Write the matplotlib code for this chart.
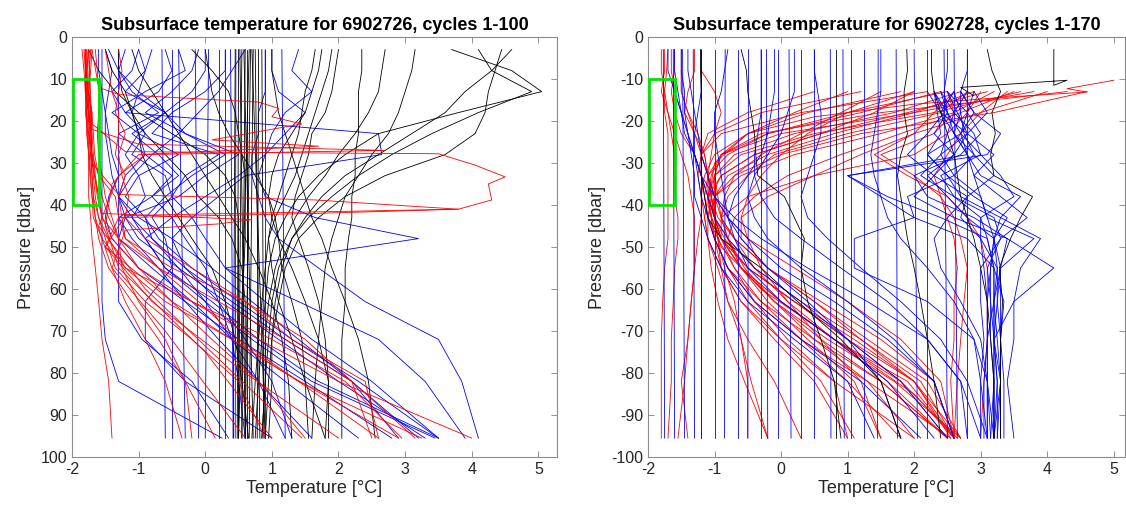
import numpy as np
import matplotlib

matplotlib.use("Agg")
import matplotlib.pyplot as plt
from matplotlib.patches import Rectangle

OUTPUT_PATH = "out.png"
nan = np.nan

# pressure levels (dbar) shared by the gridded profiles
P_GRID = [3, 8, 13, 18, 23, 28, 33, 38, 43, 48, 55, 63, 72, 82, 95.5]
P_TOP, P_BOTTOM = 3, 95.5

# ---------------- float 6902726 (left panel) ----------------
LEFT_BLACK = [
    [4.6, 4.3, 3.9, 3.6, 3.1, 2.6, 2.1, 1.75, 1.5, 1.3, 1.1, 1.0, 0.95, 0.9, 0.85],
    [3.7, 4.6, 5.05, 3.8, 2.6, 2.1, 1.7, 1.4, 1.2, 1.05, 0.95, 0.9, 0.85, 0.8, 0.75],
    [4.1, 4.3, 4.9, 4.1, 3.4, 2.8, 2.3, 1.9, 1.55, 1.3, 1.15, 1.05, 1.0, 1.0, 0.95],
    [4.45, 4.35, 4.25, 4.2, 4.05, 3.6, 2.7, 2.1, 1.7, 1.4, 1.2, 1.1, 1.0, 0.95, 0.9],
    [3.15, 3.1, 3.0, 2.9, 2.75, 2.5, 2.3, 2.1, 2.0, 1.9, 1.8, 1.75, 1.7, 1.65, 1.6],
    [2.7, 2.65, 2.6, 2.45, 2.25, 2.0, 1.8, 1.55, 1.35, 1.2, 1.05, 0.95, 0.9, 0.9, 0.85],
    [1.9, 1.85, 1.75, 1.65, 1.55, 1.45, 1.35, 1.2, 1.05, 0.95, 1.0, 1.1, 1.3, 1.5, 1.8],
    [1.65, 1.6, 1.5, 1.45, 1.4, 1.3, 1.2, 1.1, 1.0, 0.95, 0.9, 0.85, 0.8, 0.75, 0.7],
    [-1.75, -1.6, -1.35, -1.0, -0.5, 0.0, 0.3, 0.45, 0.5, 0.5, 0.5, 0.5, 0.5, 0.5, 0.5],
    [-1.3, -1.3, -1.25, -1.1, -1.0, -0.95, -0.8, -0.6, -0.4, -0.2, 0.1, 0.3, 0.45, 0.55, 0.65],
    [-0.2, 0.1, 0.35, 0.45, 0.5, 0.55, 0.6, 0.6, 0.6, 0.6, 0.58, 0.55, 0.55, 0.55, 0.55],
    [2.35, 2.35, 2.3, 2.3, 2.3, 2.25, 2.25, 2.2, 2.2, 2.15, 2.1, 2.1, 2.05, 2.05, 2.05],
    [1.0, 1.0, 1.05, 1.1, 1.2, 1.3, 1.4, 1.5, 1.6, 1.75, 1.9, 2.1, 2.3, 2.45, 2.55],
    [1.75, 1.7, 1.6, 1.5, 1.3, 1.1, 1.0, 0.95, 1.0, 1.1, 1.3, 1.5, 1.7, 1.85, 1.8],
    [-1.1, -1.0, -0.8, -0.6, -0.4, -0.2, 0.0, 0.2, 0.4, 0.6, 0.8, 1.0, 1.15, 1.25, 1.3],
    [0.0, 0.05, 0.1, 0.2, 0.35, 0.55, 0.75, 0.95, 1.05, 1.1, 1.15, 1.3, 1.45, 1.5, 1.55],
    [2.0, 1.95, 1.9, 1.8, 1.6, 1.55, 1.45, 1.35, 1.3, 1.4, 1.55, 1.7, 1.8, 1.85, 1.85],
    [-1.5, -1.4, -1.2, -1.1, -0.9, -0.6, -0.3, -0.1, 0.2, 0.4, 0.55, 0.6, 0.6, 0.6, 0.6],
]
LEFT_BLACK_FLAT_TOP = [0.45, 0.5, 0.55, 0.6, 0.62, 0.68, 0.72, 0.75, 0.8, 0.85, 0.52, 0.58, 0.66, 0.7]
LEFT_BLACK_FLAT_BOTTOM = [0.42, 0.48, 0.5, 0.55, 0.62, 0.6, 0.66, 0.82, 0.78, 0.88, 0.6, 0.72, 0.5, 0.9]

LEFT_BLUE = [
    [-1.55, -1.55, -1.55, -1.55, -1.55, -1.55, -1.55, -1.55, -1.55, -1.55, -1.55, -1.55, -1.5, -1.3, 0.25],
    [-1.3, -1.3, -1.3, -1.3, -1.3, -1.3, -1.3, -1.3, -1.3, -1.3, -1.3, -1.3, -0.95, -0.2, 0.35],
    [-1.0, -1.1, -1.4, -1.2, -0.9, -1.1, -0.6, -0.5, -0.8, -0.6, -0.5, -0.9, -0.9, -0.3, 1.0],
    [-0.8, -0.9, -1.2, -0.6, -1.0, -1.2, -1.0, -0.9, -1.1, -0.9, -0.6, 0.0, 0.7, 1.6, 3.45],
    [0.3, 0.3, 0.0, -0.5, -0.8, 0.2, -0.3, -0.5, -0.2, 0.0, 0.3, 0.9, 1.6, 2.5, 3.5],
    [-0.1, -0.2, -0.5, -0.9, -0.3, 0.5, 0.0, -0.4, -1.2, -1.3, -0.8, -0.2, 0.4, 1.2, 2.3],
    [1.4, 1.3, 1.6, 1.2, 1.0, 0.9, 0.8, 0.9, 1.65, 3.2, 0.3, 1.4, 2.6, 3.3, 3.9],
    [0.9, 0.9, 0.9, 0.8, 0.8, 0.7, 0.7, 0.8, 0.9, 1.1, 1.7, 2.4, 3.5, 3.85, 4.1],
    [-0.6, -0.5, -0.7, -1.2, 2.6, 2.65, 0.6, 0.2, -0.2, -0.5, -0.3, 0.4, 1.2, 2.2, 3.2],
    [-1.5, -1.4, -1.45, -1.5, -1.45, -1.4, -1.3, -1.45, -1.5, -1.4, -1.0, -0.3, 0.5, 1.5, 2.8],
    [-1.6, -1.6, -1.55, -1.5, -1.5, -1.45, -1.4, -1.3, -1.1, -0.8, -0.3, 0.2, 0.6, 1.0, 1.3],
    [0.0, 0.0, -0.2, -0.6, -1.1, -0.7, -0.4, -0.8, -0.5, -0.3, 0.0, 0.2, 0.4, 0.5, 0.6],
    [-1.0, -0.9, -1.0, -1.1, -1.0, -0.9, -1.2, -1.3, -1.2, -1.0, -0.4, 0.3, 1.1, 2.0, 3.3],
    [1.0, 1.0, 1.1, 1.5, 1.2, 0.9, 0.5, 0.0, -0.5, -0.9, -0.6, 0.1, 0.8, 1.7, 3.5],
    [-1.2, -1.3, -1.1, -0.7, -1.3, -0.9, -0.5, -0.8, -1.3, -1.1, -0.7, -0.3, 0.2, 0.8, 1.6],
    [-0.4, -0.3, -0.9, -1.4, -1.0, -0.4, -1.0, -1.2, -0.9, -0.7, -0.2, 0.5, 1.3, 2.3, 3.5],
    [0.6, 0.4, 0.2, -0.1, -0.4, -0.8, -1.1, -1.3, -1.0, -0.5, 0.1, 0.7, 1.4, 2.2, 2.9],
    [-1.45, -1.3, -1.0, -0.6, -0.3, 0.3, -0.2, -0.6, -0.9, -0.8, -0.4, 0.0, 0.4, 0.8, 1.2],
]
LEFT_BLUE_FLAT_TOP = [-0.65, -0.5, -0.4, -0.15, 0.2, 0.3, 0.38, 0.46, 0.9, 1.15, 0.05]
LEFT_BLUE_FLAT_BOTTOM = [-0.6, -0.5, -0.3, -0.1, 0.2, 0.3, 0.42, 0.45, 0.9, 1.2, 0.0]

LEFT_RED = [
    [-1.8, -1.8, -1.8, -1.78, -1.78, -1.75, -1.75, -1.75, -1.72, -1.7, -1.65, -1.6, -1.55, -1.45, -1.4],
    [-1.75, -1.78, -1.8, -1.75, -1.7, -1.72, -1.7, -1.68, -1.65, -1.6, -1.45, -1.1, -0.7, -0.3, 0.15],
    [-1.7, -1.72, -1.75, -1.72, -1.7, -1.68, -1.65, -1.6, -1.55, -1.4, -1.0, -0.5, 0.1, 0.8, 1.5],
    [-1.85, -1.82, -1.8, -1.78, -1.75, -1.72, -1.7, -1.68, -1.6, -1.45, -1.2, -0.6, 0.4, 1.4, 2.6],
    [-1.8, -1.78, -1.76, -1.74, -1.72, -1.7, -1.66, -1.62, -1.55, -1.3, -0.7, 0.2, 1.2, 2.2, 3.15],
    [-1.78, -1.8, -1.78, -1.76, -1.74, -1.7, -1.68, -1.65, -1.6, -1.5, -1.35, -0.9, -0.2, 0.5, 0.9],
    [-1.76, -1.77, -1.78, -1.8, -1.76, -1.74, -1.72, -1.7, -1.68, -1.55, -1.2, -0.2, 1.0, 2.1, 2.95],
    [-1.82, -1.8, -1.79, -1.78, -1.77, -1.75, -1.73, -1.7, -1.65, -1.55, -1.4, -1.2, -0.9, -0.6, -0.35],
    [-1.72, -1.74, -1.76, -1.7, -1.68, -1.66, -1.6, -1.55, -1.45, -1.3, -1.0, -0.2, 0.8, 2.0, 4.0],
    [-1.65, -1.62, -1.6, -1.6, -1.62, -1.6, -1.55, -1.5, -1.4, -1.3, -1.25, -1.0, -0.6, -0.3, -0.2],
    [-1.8, -1.8, -1.75, -1.7, -1.75, -1.7, -1.6, -1.35, -1.3, -1.2, -0.5, 0.6, 1.5, 2.2, 2.5],
    [-1.5, -1.45, -1.4, -1.3, -1.3, -1.35, -1.2, -1.3, -1.25, -1.2, -0.7, -0.1, 0.5, 1.4, 3.25],
    [-1.3, -1.25, -1.3, -1.35, -1.2, -1.3, -1.25, -1.15, -1.2, -0.9, -0.2, 0.6, 1.3, 2.4, 2.6],
]
# red profiles with shallow warm intrusions (own pressure levels)
LEFT_RED_SPIKE_T = [
    [-1.7, -1.6, -1.3, 0.8, 1.1, 1.0, 1.45, 0.1, 1.7, -1.0, -1.4, -1.5, -1.3, 0.0, 1.0],
    [-1.8, -1.75, -1.2, 3.5, 4.05, 4.5, 4.25, 4.3, 3.8, 1.65, -1.3, -1.5, -0.8, 0.6, 2.0],
    [-1.8, -1.7, -1.3, 1.65, 3.8, -1.2, -1.5, -0.5, 1.2, 2.9],
    [-1.75, -1.7, -1.55, 0.7, 0.2, -1.2, -1.4, -0.6, 0.6],
    [-1.75, -1.7, -1.0, 2.7, -0.9, -1.3, -1.6, -0.9, 1.45],
]
LEFT_RED_SPIKE_P = [
    [3, 12, 13.7, 15.5, 17, 19, 20.7, 24.5, 26, 28, 35, 45, 55, 75, 95.5],
    [3, 20, 27.3, 27.8, 30.5, 33.3, 35, 38.8, 41, 42, 43, 50, 63, 80, 95.5],
    [3, 30, 37.5, 38.8, 41, 42.5, 50, 63, 80, 95.5],
    [3, 30, 42, 43.5, 44.5, 46, 55, 70, 95.5],
    [3, 22, 25.5, 27, 28, 33, 45, 60, 95.5],
]

# ---------------- float 6902728 (right panel) ----------------
RIGHT_BLACK = [
    [3.1, 3.17, 3.3, 3.17, 3.22, 3.15, 3.2, 3.78, 3.6, 3.45, 3.28, 3.33, 3.3, 3.3, 3.3],
    [-0.6, -0.52, -0.5, -0.45, -0.4, -0.38, -0.35, 0.05, 0.2, 0.35, 0.3, 0.4, 0.6, 0.8, 0.9],
    [-1.21, -1.21, -1.2, -1.2, -1.2, -1.2, -1.2, -1.15, -1.1, -0.9, -0.3, 0.25, 0.9, 1.5, 1.8],
    [1.89, 1.9, 1.85, 1.85, 1.9, 1.8, 1.75, 1.8, 1.85, 1.9, 2.0, 2.1, 2.2, 2.3, 2.4],
    [2.26, 2.26, 2.3, 2.4, 2.5, 2.6, 2.65, 2.7, 2.8, 2.9, 3.0, 3.1, 3.15, 3.2, 3.2],
]
RIGHT_BLACK_FLAT_TOP = [-1.21, 0.82]
RIGHT_BLACK_FLAT_BOTTOM = [-1.21, 0.82]
RIGHT_BLACK_SPIKE_T = [[4.1, 4.1, 4.3, 2.7, 2.9]]
RIGHT_BLACK_SPIKE_P = [[3, 11.5, 10.3, 12, 14]]

RIGHT_BLUE = [
    [-1.7, -1.7, -1.6, -1.5, -1.4, -1.3, -1.2, -1.1, -1.0, -0.8, -0.4, 0.3, 1.0, 1.8, 2.5],
    [-1.5, -1.5, -1.45, -1.45, -1.4, -1.35, -1.3, -1.3, -1.2, -1.1, -0.9, -0.5, 0.2, 1.0, 1.4],
    [-1.2, -1.2, -1.2, -1.25, -1.3, -1.3, -1.25, -1.2, -1.1, -1.0, -0.8, -0.4, 0.3, 1.2, 2.1],
    [-0.8, -0.85, -0.9, -1.0, -1.0, -0.95, -0.9, -0.85, -0.8, -0.7, -0.5, 0.0, 0.8, 1.6, 2.3],
    [nan, nan, 2.3, 2.5, 2.6, 2.8, 1.0, 1.6, 2.4, 3.1, 3.2, 3.2, 3.2, 3.2, 3.2],
    [nan, nan, 2.6, 2.7, 2.75, 2.9, 2.6, 3.0, 3.1, 3.2, 3.15, 3.1, 3.1, 3.1, 3.1],
    [nan, nan, 2.2, 2.4, 2.6, 2.8, 3.0, 3.6, 3.3, 3.2, 3.3, 3.3, 3.3, 3.3, 3.3],
    [nan, nan, 2.9, 2.8, 2.7, 2.2, 2.5, 2.7, 3.3, 3.9, 3.6, 3.5, 3.5, 3.4, 3.5],
    [nan, nan, 2.5, 2.8, 3.0, 2.7, 2.0, 2.2, 2.9, 3.4, 4.1, 3.5, 3.2, 3.3, 3.2],
    [nan, nan, 2.4, 2.6, 2.9, 3.0, 2.4, 2.6, 3.2, 3.3, 3.0, 3.0, 3.05, 3.0, 3.0],
    [2.8, 2.8, 2.7, 2.7, 2.6, 2.9, 3.2, 2.8, 2.7, 3.0, 3.25, 3.25, 3.3, 3.3, 3.25],
    [nan, nan, 2.7, 2.9, 3.3, 3.1, 1.0, 1.5, 2.0, 2.8, 3.2, 3.2, 3.2, 3.25, 3.2],
    [nan, nan, 2.8, 2.6, 2.5, 2.4, 2.6, 1.9, 2.0, 1.1, 1.1, 2.2, 2.9, 3.1, 3.2],
    [nan, nan, 2.4, 2.5, 2.7, 2.8, 2.9, 3.0, 3.1, 3.8, 3.3, 3.2, 3.1, 3.1, 3.1],
    [-0.3, -0.3, -0.3, -0.3, -0.35, -0.4, -0.4, -0.3, -0.1, 0.3, 0.9, 1.6, 2.2, 2.7, 3.0],
    [0.5, 0.5, 0.55, 0.6, 0.6, 0.5, 0.4, 0.3, 0.4, 0.7, 1.2, 1.8, 2.4, 2.8, 3.1],
    [1.5, 1.5, 1.5, 1.45, 1.4, 1.35, 1.4, 1.5, 1.6, 1.8, 2.2, 2.6, 2.9, 3.0, 3.1],
    [nan, nan, 2.3, 2.35, 2.4, 2.2, 2.5, 2.9, 3.4, 3.2, 3.15, 3.15, 3.2, 3.2, 3.15],
    [nan, nan, 2.7, 2.9, 2.7, 3.0, 3.3, 3.5, 3.0, 3.1, 3.2, 3.35, 3.3, 3.35, 3.35],
    [2.5, 2.5, 2.45, 2.5, 2.3, 2.6, 2.2, 2.5, 2.8, 3.2, 3.25, 3.2, 3.25, 3.3, 3.3],
    [-1.6, -1.6, -1.55, -1.5, -1.45, -1.3, -1.2, -1.0, -0.7, -0.3, 0.4, 1.3, 2.2, 2.7, 2.8],
    [-0.1, -0.1, -0.1, -0.15, -0.2, -0.3, -0.5, -0.7, -0.8, -0.6, -0.2, 0.4, 1.0, 1.5, 1.8],
    [nan, nan, 2.5, 2.65, 2.8, 2.4, 2.1, 2.6, 3.0, 3.0, 3.05, 3.1, 3.1, 3.05, 3.05],
    [nan, nan, 2.3, 2.45, 2.2, 1.9, 2.3, 2.0, 2.6, 3.4, 3.3, 3.25, 3.2, 3.25, 3.25],
    [nan, nan, 2.6, 2.4, 2.8, 3.2, 2.9, 3.3, 3.7, 3.3, 3.1, 3.15, 3.15, 3.2, 3.2],
    [nan, nan, 2.9, 3.1, 2.8, 2.6, 2.3, 2.8, 2.5, 2.3, 2.4, 2.7, 3.0, 3.1, 3.15],
    [-1.4, -1.4, -1.35, -1.3, -1.25, -1.2, -1.1, -1.0, -0.8, -0.5, 0.0, 0.8, 1.6, 2.3, 2.6],
    [0.2, 0.2, 0.2, 0.1, 0.0, -0.2, -0.4, -0.5, -0.4, -0.2, 0.3, 1.0, 1.7, 2.3, 2.6],
]
RIGHT_BLUE_FLAT_TOP = [-1.77, -1.62, -1.48, -1.32, -1.0, -0.84, -0.65, -0.49, -0.3, -0.22, -0.05,
                       0.12, 0.3, 0.5, 0.74, 0.93, 1.05, 1.25, 1.46, 1.73, 2.0, 2.2, 2.45, 2.6, 2.8]
RIGHT_BLUE_FLAT_BOTTOM = [-1.75, -1.6, -1.45, -1.3, -1.0, -0.85, -0.65, -0.5, -0.3, -0.2, -0.05,
                          0.15, 0.3, 0.5, 0.75, 0.95, 1.05, 1.25, 1.45, 1.75, 2.05, 2.2, 2.5, 2.65, 2.8]

RIGHT_RED = [
    [nan, nan, 4.3, 1.5, -0.3, -0.9, -1.0, -1.05, -0.95, -0.7, -0.2, 0.6, 1.5, 2.3, 2.6],
    [nan, nan, 3.6, 2.3, 0.5, -0.6, -1.0, -1.1, -1.0, -0.9, -0.5, 0.2, 1.0, 2.0, 2.55],
    [nan, nan, 2.9, 2.0, 0.8, -0.2, -0.8, -1.0, -1.1, -1.0, -0.8, -0.3, 0.5, 1.5, 2.5],
    [nan, nan, 2.5, 1.0, -0.2, -0.8, -1.1, -1.15, -1.1, -0.95, -0.7, -0.3, 0.3, 1.0, 1.8],
    [nan, nan, 3.2, 2.6, 1.5, 0.2, -0.6, -1.0, -1.05, -0.9, -0.6, 0.0, 0.8, 1.8, 2.65],
    [nan, nan, 1.8, 0.4, -0.5, -1.0, -1.15, -1.2, -1.15, -1.1, -0.95, -0.8, -0.5, -0.1, 0.3],
    [nan, nan, 4.0, 3.0, 2.0, 1.2, 0.5, -0.2, -0.6, -0.6, -0.2, 0.5, 1.3, 2.2, 2.7],
    [nan, nan, 2.2, 0.3, -0.9, -1.2, -1.2, -1.1, -1.0, -0.9, -0.7, -0.4, 0.1, 0.8, 1.0],
    [nan, nan, 3.0, 2.8, 2.5, 2.0, 0.5, -0.5, -0.9, -0.9, -0.6, 0.0, 0.8, 1.9, 2.6],
    [nan, nan, 1.2, -0.3, -1.0, -1.2, -1.1, -1.0, -1.0, -0.95, -0.85, -0.7, -0.6, -0.45, -0.2],
    [nan, nan, 2.7, 1.7, 0.2, -0.7, -1.0, -1.0, -0.8, -0.5, 0.2, 1.0, 1.8, 2.4, 2.6],
    [nan, nan, 3.4, 3.0, 2.7, 2.5, 2.3, 2.4, 2.6, 2.7, 2.8, 2.75, 2.7, 2.65, 2.6],
    [nan, nan, 2.6, 2.3, 2.0, 1.4, 1.9, 2.5, 2.8, 3.0, 3.1, 3.1, 3.1, 3.05, 3.0],
    [-1.8, -1.8, -1.75, -1.75, -1.7, -1.7, -1.7, -1.7, -1.7, -1.7, -1.75, -1.78, -1.8, -1.8, -1.8],
    [-1.7, -1.72, -1.75, -1.7, -1.65, -1.6, -1.6, -1.6, -1.55, -1.55, -1.6, -1.62, -1.65, -1.65, -1.7],
    [-1.75, -1.75, -1.8, -1.7, -1.6, -1.5, -1.4, -1.35, -1.3, -1.3, -1.3, -1.35, -1.4, -1.45, -1.55],
    [-1.6, -1.6, -1.65, -1.6, -1.5, -1.3, -1.2, -1.1, -1.05, -1.0, -0.9, -0.6, 0.0, 0.8, 2.0],
    [-1.3, -1.3, -1.4, -1.45, -1.3, -1.15, -1.1, -1.0, -0.9, -0.7, -0.4, 0.1, 0.8, 1.6, 2.5],
    [-1.5, -1.5, -1.5, -1.4, -1.3, -1.2, -1.1, -1.05, -1.0, -0.95, -0.9, -0.8, -0.6, -0.5, -0.5],
    [nan, -1.2, -1.0, -0.9, -1.0, -1.05, -1.1, -1.05, -1.0, -0.9, -0.6, -0.1, 0.6, 1.5, 2.5],
    [nan, nan, 0.5, -0.5, -1.1, -1.2, -1.25, -1.2, -1.2, -1.25, -1.3, -1.35, -1.4, -1.5, -1.4],
    [nan, nan, 1.5, 0.9, 0.3, -0.3, -0.7, -0.85, -0.9, -0.7, -0.2, 0.5, 1.2, 2.0, 2.7],
    [nan, nan, 4.6, 3.2, 1.2, 0.0, -0.7, -1.0, -1.0, -0.9, -0.5, 0.2, 1.0, 1.8, 2.5],
    [nan, nan, 2.0, 1.0, 0.4, 0.0, -0.3, -0.5, -0.6, -0.5, -0.3, 0.1, 0.6, 1.2, 1.5],
    [nan, nan, 3.8, 2.0, 0.0, -0.9, -1.1, -1.1, -1.0, -0.8, -0.4, 0.3, 1.2, 2.1, 2.6],
    [nan, nan, 2.4, 1.2, -0.2, -0.9, -1.05, -1.1, -1.05, -1.0, -0.8, -0.5, 0.0, 0.6, 1.1],
    [nan, nan, 3.1, 1.9, 0.6, -0.4, -0.9, -1.05, -1.0, -0.85, -0.5, 0.2, 1.1, 2.0, 2.6],
    [nan, nan, 1.0, 0.2, -0.5, -0.9, -1.0, -0.95, -0.9, -0.8, -0.55, -0.1, 0.5, 1.3, 2.0],
    [nan, nan, 2.8, 2.4, 1.0, -0.1, -0.5, -0.8, -0.9, -0.8, -0.6, -0.2, 0.4, 1.1, 1.5],
    [nan, -1.5, -1.5, -1.4, -1.25, -1.15, -1.1, -1.05, -1.1, -1.1, -1.05, -0.95, -0.8, -0.55, -0.2],
    [nan, nan, 3.5, 2.7, 1.8, 0.9, 0.1, -0.4, -0.7, -0.8, -0.6, -0.1, 0.7, 1.7, 2.7],
    [nan, nan, 2.0, 1.4, 0.6, -0.4, -0.9, -1.1, -1.15, -1.1, -0.9, -0.6, -0.1, 0.5, 1.0],
    [-1.65, -1.65, -1.6, -1.5, -1.4, -1.3, -1.2, -1.15, -1.1, -1.0, -0.8, -0.4, 0.3, 1.3, 2.55],
    [nan, nan, 2.5, 2.6, 2.3, 1.5, 2.0, 2.4, 2.5, 2.6, 2.65, 2.6, 2.6, 2.55, 2.6],
]
RIGHT_RED_SPIKE_T = [[5.0, 4.3, 4.6, 3.4, 2.0, 0.5, -0.5, -1.0, -1.1, -0.9, -0.3, 0.8, 2.0, 2.6]]
RIGHT_RED_SPIKE_P = [[10.3, 12.3, 13.1, 14.3, 16, 19, 23, 30, 40, 50, 60, 72, 85, 95.5]]

# green boxes marking the cold near-surface range
BOX_T = (-1.98, -1.6)
BOX_P = (10, 40)

LINE_W = 0.6


def draw_grid_profiles(ax, rows, color, sign):
    press = sign * np.array(P_GRID, dtype=float)
    for row in rows:
        ax.plot(row, press, color=color, linewidth=LINE_W)


def draw_flat_profiles(ax, tops, bottoms, color, sign):
    for t0, t1 in zip(tops, bottoms):
        ax.plot([t0, t1], [sign * P_TOP, sign * P_BOTTOM], color=color, linewidth=LINE_W)


def draw_spike_profiles(ax, temps, press, color, sign):
    for t, p in zip(temps, press):
        ax.plot(t, sign * np.array(p, dtype=float), color=color, linewidth=LINE_W)


def style_axes(ax, xlim, ylim, yticks, title):
    ax.set_xlim(*xlim)
    ax.set_ylim(*ylim)
    ax.set_xticks(range(-2, 6))
    ax.set_yticks(yticks)
    ax.tick_params(direction="in", length=4, width=0.6, color="#808080", labelcolor="#262626",
                   labelsize=11.5, top=True, right=True)
    for spine in ax.spines.values():
        spine.set_color("#8c8c8c")
        spine.set_linewidth(0.8)
    ax.set_xlabel("Temperature [°C]", fontsize=13, color="#262626", labelpad=2)
    ax.set_ylabel("Pressure [dbar]", fontsize=13, color="#262626", labelpad=4)
    ax.set_title(title, fontsize=13, fontweight="bold", pad=5)


def add_box(ax, sign):
    p0 = min(sign * BOX_P[0], sign * BOX_P[1])
    ax.add_patch(Rectangle((BOX_T[0], p0), BOX_T[1] - BOX_T[0], BOX_P[1] - BOX_P[0],
                           fill=False, edgecolor="#00e600", linewidth=2.0, zorder=5))


def main():
    plt.rcParams["font.family"] = ["Liberation Sans", "DejaVu Sans"]
    plt.rcParams["axes.unicode_minus"] = False

    fig = plt.figure(figsize=(11.26, 5.07), dpi=100)
    ax_l = fig.add_axes([72 / 1126, 50 / 507, 485 / 1126, 420 / 507])
    ax_r = fig.add_axes([648 / 1126, 50 / 507, 477 / 1126, 420 / 507])

    draw_flat_profiles(ax_l, LEFT_BLUE_FLAT_TOP, LEFT_BLUE_FLAT_BOTTOM, "blue", 1)
    draw_grid_profiles(ax_l, LEFT_BLUE, "blue", 1)
    draw_flat_profiles(ax_l, LEFT_BLACK_FLAT_TOP, LEFT_BLACK_FLAT_BOTTOM, "black", 1)
    draw_grid_profiles(ax_l, LEFT_BLACK, "black", 1)
    draw_grid_profiles(ax_l, LEFT_RED, "red", 1)
    draw_spike_profiles(ax_l, LEFT_RED_SPIKE_T, LEFT_RED_SPIKE_P, "red", 1)
    add_box(ax_l, 1)
    style_axes(ax_l, (-2, 5.28), (100, 0), range(0, 101, 10),
               "Subsurface temperature for 6902726, cycles 1-100")

    draw_grid_profiles(ax_r, RIGHT_RED, "red", -1)
    draw_spike_profiles(ax_r, RIGHT_RED_SPIKE_T, RIGHT_RED_SPIKE_P, "red", -1)
    draw_flat_profiles(ax_r, RIGHT_BLUE_FLAT_TOP, RIGHT_BLUE_FLAT_BOTTOM, "blue", -1)
    draw_grid_profiles(ax_r, RIGHT_BLUE, "blue", -1)
    draw_flat_profiles(ax_r, RIGHT_BLACK_FLAT_TOP, RIGHT_BLACK_FLAT_BOTTOM, "black", -1)
    draw_grid_profiles(ax_r, RIGHT_BLACK, "black", -1)
    draw_spike_profiles(ax_r, RIGHT_BLACK_SPIKE_T, RIGHT_BLACK_SPIKE_P, "black", -1)
    add_box(ax_r, -1)
    style_axes(ax_r, (-2, 5.17), (-100, 0), range(-100, 1, 10),
               "Subsurface temperature for 6902728, cycles 1-170")

    fig.savefig(OUTPUT_PATH, dpi=100)
    plt.close(fig)


if __name__ == "__main__":
    main()
